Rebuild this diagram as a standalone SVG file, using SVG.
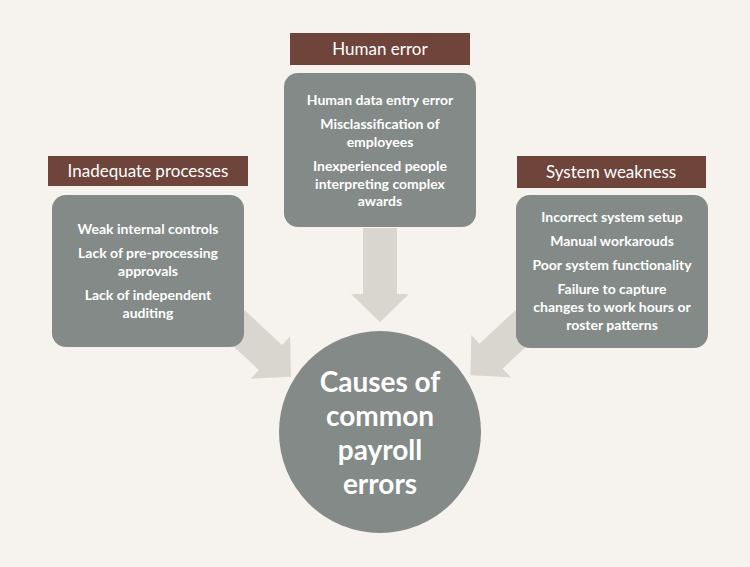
<svg xmlns="http://www.w3.org/2000/svg" width="750" height="567" viewBox="0 0 750 567">
<style>
.box{fill:#838a87}
.lab{fill:#6e443b}
.arr{fill:#d9d6d0}
.lt{font-family:Lato,"Liberation Sans",sans-serif;font-size:17px;fill:#fff;text-anchor:middle}
.bt{font-family:Lato,"Liberation Sans",sans-serif;font-size:14px;font-weight:bold;fill:#fff;text-anchor:middle}
.ct{font-family:Lato,"Liberation Sans",sans-serif;font-size:28px;font-weight:bold;fill:#fff;text-anchor:middle}
</style>
<defs>
<polygon id="ar" points="0,-17 0,17 0,17"/>
</defs>
<rect width="750" height="567" fill="#f6f3ef"/>
<g id="connectors">
<polygon class="arr" transform="translate(380,228) rotate(90)" points="0,-17 66,-17 66,-29 94,0 66,29 66,17 0,17"/>
<polygon class="arr" transform="translate(228,318) rotate(43)" points="0,-17 58,-17 58,-29 86,0 58,29 58,17 0,17"/>
<polygon class="arr" transform="translate(532,318) rotate(137)" points="0,-17 56,-17 56,-29 84,0 56,29 56,17 0,17"/>
</g>
<g id="human">
<rect class="lab" x="290" y="33" width="180" height="32"/>
<text class="lt" x="380" y="55">Human error</text>
<rect class="box" x="284" y="73" width="192" height="154" rx="14"/>
<text class="bt" x="380" y="105">Human data entry error</text>
<text class="bt" x="380" y="129">Misclassification of</text>
<text class="bt" x="380" y="147">employees</text>
<text class="bt" x="380" y="171">Inexperienced people</text>
<text class="bt" x="380" y="189">interpreting complex</text>
<text class="bt" x="380" y="206">awards</text>
</g>
<g id="inadequate">
<rect class="lab" x="48" y="156" width="200" height="30"/>
<text class="lt" x="148" y="177">Inadequate processes</text>
<rect class="box" x="52" y="195" width="192" height="152" rx="14"/>
<text class="bt" x="148" y="234">Weak internal controls</text>
<text class="bt" x="148" y="258">Lack of pre-processing</text>
<text class="bt" x="148" y="276">approvals</text>
<text class="bt" x="148" y="300">Lack of independent</text>
<text class="bt" x="148" y="318">auditing</text>
</g>
<g id="system">
<rect class="lab" x="517" y="156" width="189" height="32"/>
<text class="lt" x="611" y="178">System weakness</text>
<rect class="box" x="516" y="195" width="192" height="153" rx="14"/>
<text class="bt" x="612" y="222">Incorrect system setup</text>
<text class="bt" x="612" y="246">Manual workarouds</text>
<text class="bt" x="612" y="270">Poor system functionality</text>
<text class="bt" x="612" y="294">Failure to capture</text>
<text class="bt" x="612" y="312">changes to work hours or</text>
<text class="bt" x="612" y="330">roster patterns</text>
</g>
<g id="center">
<circle class="box" cx="380" cy="432" r="101"/>
<text class="ct" x="380" y="392">Causes of</text>
<text class="ct" x="380" y="426">common</text>
<text class="ct" x="380" y="460">payroll</text>
<text class="ct" x="380" y="494">errors</text>
</g>
</svg>
